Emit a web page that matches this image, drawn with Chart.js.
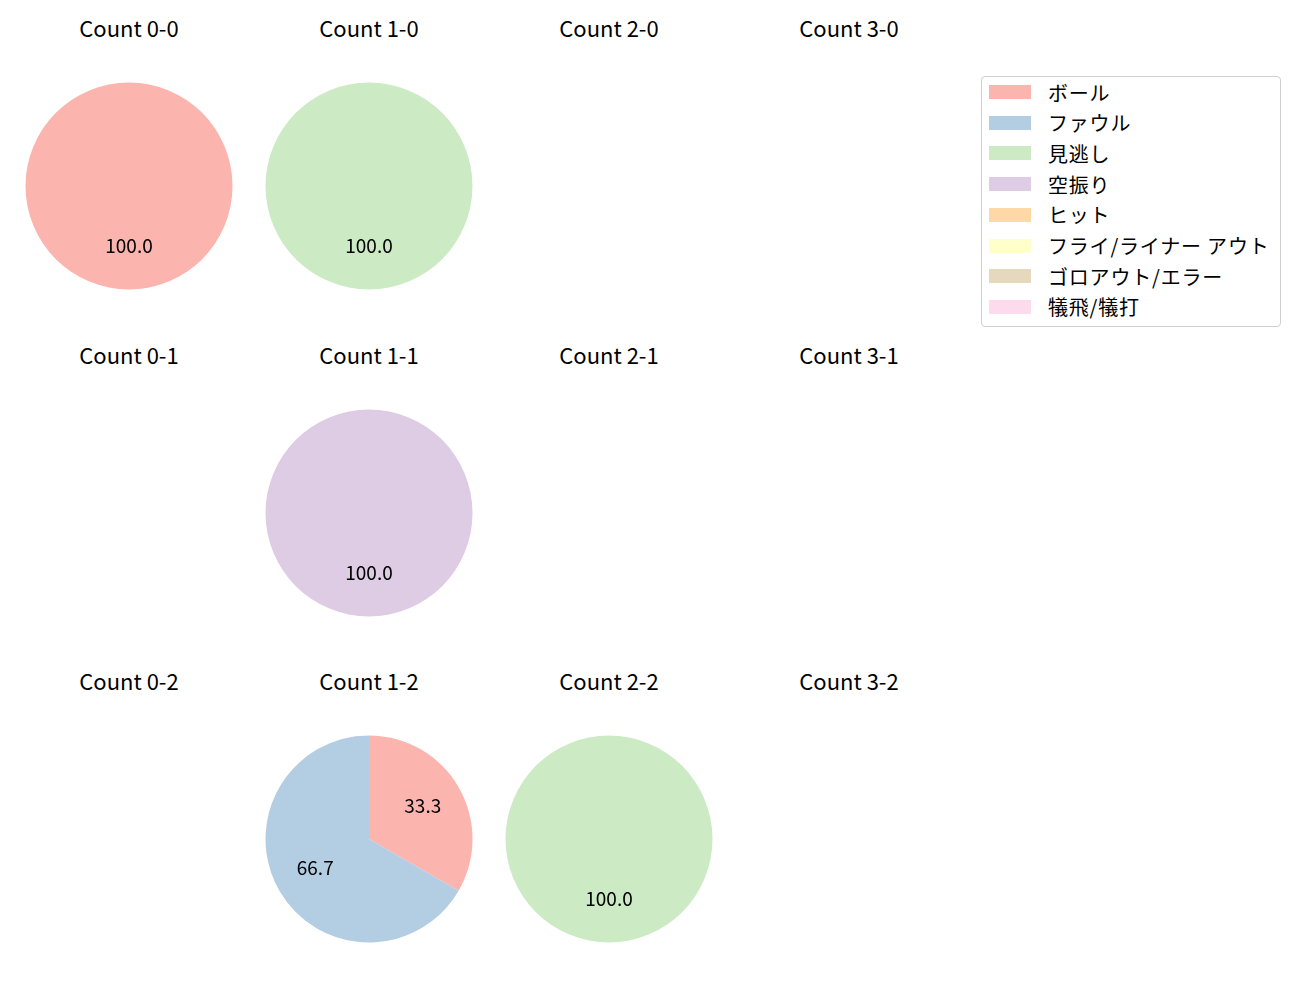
<!DOCTYPE html>
<html>
<head>
<meta charset="utf-8">
<script src="https://cdn.jsdelivr.net/npm/chart.js@4"></script>
<style>
  body { margin: 0; background: #fff; font-family: "Noto Sans CJK JP", "Noto Sans", sans-serif; }
  #page { position: relative; width: 1300px; height: 1000px; }
  .title { position: absolute; width: 240px; text-align: center; font-size: 22px; color: #000; line-height: 1; }
  .pie { position: absolute; width: 240px; height: 240px; }
  #legend { position: absolute; left: 981px; top: 76px; width: 298px; height: 249px;
    border: 1px solid #d0d0d0; border-radius: 4px; }
  .item { position: absolute; left: 7px; height: 20px; display: flex; align-items: center; font-size: 20px; letter-spacing: 0.8px; }
  .patch { width: 42px; height: 14px; margin-right: 17px; }
</style>
</head>
<body>
<div id="page"><div id="legend"></div></div>
<script>
const categories = ['ボール', 'ファウル', '見逃し', '空振り', 'ヒット', 'フライ/ライナー アウト', 'ゴロアウト/エラー', '犠飛/犠打'];
const colors = ['#fbb4ae', '#b3cde3', '#ccebc5', '#decbe4', '#fed9a6', '#ffffcc', '#e5d8bd', '#fddaec'];
const balls = [0, 1, 2, 3];
const strikes = [0, 1, 2];

// pitch counts per category, keyed "balls-strikes"
const count00 = [1, 0, 0, 0, 0, 0, 0, 0];
const count10 = [0, 0, 1, 0, 0, 0, 0, 0];
const count11 = [0, 0, 0, 1, 0, 0, 0, 0];
const count12 = [1, 2, 0, 0, 0, 0, 0, 0];
const count22 = [0, 0, 1, 0, 0, 0, 0, 0];
const empty = [0, 0, 0, 0, 0, 0, 0, 0];

const counts = {
  '0-0': count00, '1-0': count10, '2-0': empty, '3-0': empty,
  '0-1': empty, '1-1': count11, '2-1': empty, '3-1': empty,
  '0-2': empty, '1-2': count12, '2-2': count22, '3-2': empty
};

const page = document.getElementById('page');

// percentage labels at 0.6 of the radius, like autopct
const pctLabels = {
  id: 'pctLabels',
  afterDatasetsDraw(chart) {
    const ctx = chart.ctx;
    const meta = chart.getDatasetMeta(0);
    const data = chart.data.datasets[0].data;
    const total = data.reduce((a, b) => a + b, 0);
    ctx.save();
    ctx.font = '19px "Noto Sans CJK JP", "Noto Sans", sans-serif';
    ctx.fillStyle = '#000';
    ctx.textAlign = 'center';
    ctx.textBaseline = 'middle';
    meta.data.forEach((arc, i) => {
      if (!data[i]) return;
      const mid = (arc.startAngle + arc.endAngle) / 2;
      const r = arc.outerRadius * 0.6;
      const pct = (data[i] / total * 100).toFixed(1);
      ctx.fillText(pct, arc.x + r * Math.cos(mid), arc.y + r * Math.sin(mid) - 2);
    });
    ctx.restore();
  }
};

strikes.forEach((s, row) => {
  balls.forEach((b, col) => {
    const key = b + '-' + s;
    const cx = 129 + col * 240;
    const cy = 186 + row * 326.5;

    const t = document.createElement('div');
    t.className = 'title';
    t.style.left = (cx - 120) + 'px';
    t.style.top = (cy - 170) + 'px';
    t.textContent = 'Count ' + key;
    page.appendChild(t);

    const values = counts[key];
    if (!values.some(v => v > 0)) return;

    const wrap = document.createElement('div');
    wrap.className = 'pie';
    wrap.style.left = (cx - 120) + 'px';
    wrap.style.top = (cy - 120) + 'px';
    const canvas = document.createElement('canvas');
    wrap.appendChild(canvas);
    page.appendChild(wrap);

    new Chart(canvas, {
      type: 'pie',
      data: {
        labels: categories,
        datasets: [{
          data: values,
          backgroundColor: colors,
          borderWidth: 0
        }]
      },
      options: {
        responsive: true,
        maintainAspectRatio: false,
        animation: false,
        radius: 103.5,
        layout: { padding: 0 },
        plugins: { legend: { display: false }, tooltip: { enabled: false } }
      },
      plugins: [pctLabels]
    });
  });
});

const legend = document.getElementById('legend');
categories.forEach((name, i) => {
  const item = document.createElement('div');
  item.className = 'item';
  item.style.top = (5 + i * 30.7) + 'px';
  item.innerHTML = '<span class="patch" style="background:' + colors[i] + '"></span><span>' + name + '</span>';
  legend.appendChild(item);
});
</script>
</body>
</html>
